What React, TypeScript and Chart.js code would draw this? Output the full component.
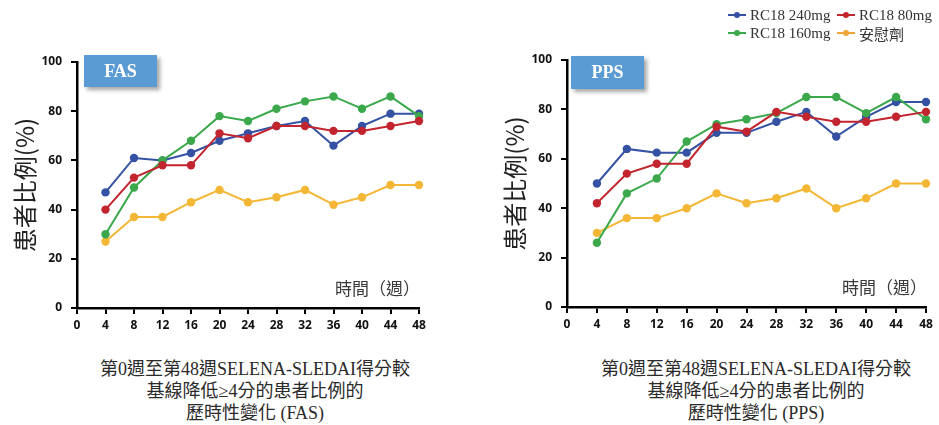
import React, { useEffect, useRef } from "react";
import { Chart, registerables } from "chart.js";

Chart.register(...registerables);

// ---------- data ----------
const weeks = [4, 8, 12, 16, 20, 24, 28, 32, 36, 40, 44, 48];
const xTickValues = [0, 4, 8, 12, 16, 20, 24, 28, 32, 36, 40, 44, 48];
const yTickValues = [0, 20, 40, 60, 80, 100];

const seriesNames = ["RC18 240mg", "RC18 80mg", "RC18 160mg", "安慰劑"];
const seriesColors = ["#3451a3", "#c3252f", "#3aa84b", "#f4b735"];
const legendColors = ["#3451a3", "#c3252f", "#3aa84b", "#f0a436"];

const fas240 = [47, 61, 60, 63, 68, 71, 74, 76, 66, 74, 79, 79];
const fas80 = [40, 53, 58, 58, 71, 69, 74, 74, 72, 72, 74, 76];
const fas160 = [30, 49, 60, 68, 78, 76, 81, 84, 86, 81, 86, 78];
const fasPlacebo = [27, 37, 37, 43, 48, 43, 45, 48, 42, 45, 50, 50];

const pps240 = [50, 64, 62.5, 62.5, 70.5, 70.5, 75, 79, 69, 77, 83, 83];
const pps80 = [42, 54, 58, 58, 73, 71, 79, 77, 75, 75, 77, 79];
const pps160 = [26, 46, 52, 67, 74, 76, 78.5, 85, 85, 78.5, 85, 76];
const ppsPlacebo = [30, 36, 36, 40, 46, 42, 44, 48, 40, 44, 50, 50];

const xAxisLabel = "時間（週）";
const yAxisLabel = "患者比例(%)";

const fasCaption = ["第0週至第48週SELENA-SLEDAI得分較", "基線降低≥4分的患者比例的", "歷時性變化 (FAS)"];
const ppsCaption = ["第0週至第48週SELENA-SLEDAI得分較", "基線降低≥4分的患者比例的", "歷時性變化 (PPS)"];

// draw order: lower "order" drawn on top
const drawOrder = [3, 1, 2, 4];

const tickFont = { family: '"Open Sans", "DejaVu Sans", sans-serif', size: 12, weight: "bold" as const };

type PanelProps = {
  left: number;
  width: number;
  height: number;
  series: number[][];
  yAxisWidth: number;
  xAxisHeight: number;
  padTop: number;
  padRight: number;
  titlePad: number;
  badge: string;
  badgeBox: { left: number; top: number; width: number; height: number };
};

const timeLabelPlugin = {
  id: "timeLabel",
  afterDatasetsDraw(chart: any) {
    const { ctx, chartArea } = chart;
    ctx.save();
    ctx.font = '17px "Noto Sans CJK TC", "Noto Sans CJK SC", sans-serif';
    ctx.fillStyle = "#3a3a3a";
    ctx.textAlign = "left";
    ctx.textBaseline = "middle";
    ctx.fillText(xAxisLabel, chartArea.right - 84, chartArea.bottom - 19);
    ctx.restore();
  },
};

function Panel(p: PanelProps) {
  const ref = useRef<HTMLCanvasElement | null>(null);
  useEffect(() => {
    if (!ref.current) return;
    const datasets = p.series.map((vals, i) => ({
      label: seriesNames[i],
      data: weeks.map((w, j) => ({ x: w, y: vals[j] })),
      borderColor: seriesColors[i],
      backgroundColor: seriesColors[i],
      pointBackgroundColor: seriesColors[i],
      pointBorderWidth: 0,
      pointRadius: 4.2,
      borderWidth: 2,
      tension: 0,
      clip: false as const,
      order: drawOrder[i],
    }));
    const chart = new Chart(ref.current, {
      type: "line",
      data: { datasets },
      plugins: [timeLabelPlugin],
      options: {
        animation: false,
        responsive: false,
        devicePixelRatio: 1,
        layout: { padding: { top: p.padTop, right: p.padRight, left: 0, bottom: 0 } },
        plugins: { legend: { display: false }, tooltip: { enabled: false } },
        scales: {
          x: {
            type: "linear",
            min: 0,
            max: 48,
            afterBuildTicks: (s: any) => {
              s.ticks = xTickValues.map((v) => ({ value: v }));
            },
            afterFit: (s: any) => {
              s.height = p.xAxisHeight;
            },
            ticks: { font: tickFont, color: "#111", padding: 4, autoSkip: false, maxRotation: 0 },
            grid: { display: true, drawOnChartArea: false, drawTicks: true, tickLength: 6, color: "#000", lineWidth: 2 },
            border: { display: true, color: "#000", width: 2.5 },
          },
          y: {
            type: "linear",
            min: 0,
            max: 100,
            afterBuildTicks: (s: any) => {
              s.ticks = yTickValues.map((v) => ({ value: v }));
            },
            afterFit: (s: any) => {
              s.width = p.yAxisWidth;
            },
            ticks: { font: tickFont, color: "#111", padding: 9 },
            grid: { display: true, drawOnChartArea: false, drawTicks: true, tickLength: 6, color: "#000", lineWidth: 2 },
            border: { display: true, color: "#000", width: 2.5 },
            title: {
              display: true,
              text: yAxisLabel,
              color: "#222",
              font: { family: '"Noto Sans CJK TC", "Noto Sans CJK SC", sans-serif', size: 24, weight: "normal" },
              padding: { top: p.titlePad, bottom: 0 },
            },
          },
        },
      } as any,
    });
    return () => chart.destroy();
  }, []);
  return (
    <>
      <canvas
        ref={ref}
        width={p.width}
        height={p.height}
        style={{ position: "absolute", left: p.left, top: 0, width: p.width, height: p.height }}
      />
      <div
        style={{
          position: "absolute",
          left: p.badgeBox.left,
          top: p.badgeBox.top,
          width: p.badgeBox.width,
          height: p.badgeBox.height,
          background: "#5b9bd3",
          boxShadow: "3px 3px 4px rgba(0,0,0,0.35)",
          color: "#fff",
          fontFamily: '"Liberation Serif", "Times New Roman", serif',
          fontWeight: "bold",
          fontSize: 18,
          display: "flex",
          alignItems: "center",
          justifyContent: "center",
        }}
      >
        {p.badge}
      </div>
    </>
  );
}

function LegendItem({ color, text }: { color: string; text: string }) {
  return (
    <div style={{ display: "flex", alignItems: "center", height: 18 }}>
      <span style={{ position: "relative", width: 18, height: 18, marginRight: 4, display: "inline-block" }}>
        <span style={{ position: "absolute", left: 0, top: 8, width: 18, height: 2, background: color }} />
        <span
          style={{ position: "absolute", left: 6, top: 6, width: 6, height: 6, borderRadius: 3, background: color }}
        />
      </span>
      <span>{text}</span>
    </div>
  );
}

function Caption({ lines, center }: { lines: string[]; center: number }) {
  return (
    <div
      style={{
        position: "absolute",
        left: center - 200,
        width: 400,
        top: 358,
        textAlign: "center",
        fontFamily: '"Liberation Serif", "Noto Sans CJK TC", serif',
        fontSize: 18,
        lineHeight: "22px",
        color: "#2a2a2a",
      }}
    >
      {lines.map((l, i) => (
        <div key={i}>{l}</div>
      ))}
    </div>
  );
}

export default function App() {
  return (
    <div style={{ position: "absolute", left: 0, top: 0, width: 939, height: 425, background: "#fff", overflow: "hidden" }}>
      <Panel
        left={0}
        width={470}
        height={340}
        series={[fas240, fas80, fas160, fasPlacebo]}
        yAxisWidth={77}
        xAxisHeight={32}
        padTop={62}
        padRight={51}
        titlePad={10}
        badge="FAS"
        badgeBox={{ left: 84, top: 55, width: 73, height: 32 }}
      />
      <Panel
        left={480}
        width={459}
        height={340}
        series={[pps240, pps80, pps160, ppsPlacebo]}
        yAxisWidth={87}
        xAxisHeight={33}
        padTop={60}
        padRight={13}
        titlePad={20}
        badge="PPS"
        badgeBox={{ left: 571, top: 56, width: 73, height: 33 }}
      />
      <div
        style={{
          position: "absolute",
          left: 728,
          top: 6,
          display: "grid",
          gridTemplateColumns: "109px auto",
          fontFamily: '"Liberation Serif", "Noto Sans CJK TC", serif',
          fontSize: 15,
          color: "#333",
          whiteSpace: "nowrap",
        }}
      >
        <LegendItem color={legendColors[0]} text={seriesNames[0]} />
        <LegendItem color={legendColors[1]} text={seriesNames[1]} />
        <LegendItem color={legendColors[2]} text={seriesNames[2]} />
        <LegendItem color={legendColors[3]} text={seriesNames[3]} />
      </div>
      <Caption lines={fasCaption} center={255} />
      <Caption lines={ppsCaption} center={756} />
    </div>
  );
}
